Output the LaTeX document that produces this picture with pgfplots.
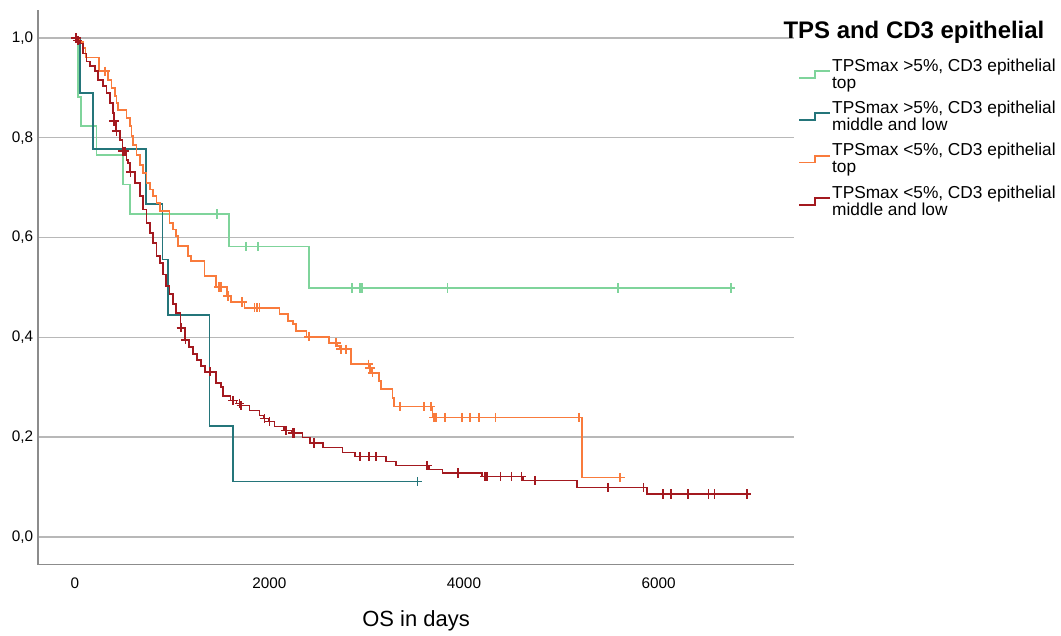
\documentclass[border=0pt]{standalone}
\usepackage{fontspec}
\setmainfont{Liberation Sans}
\usepackage{pgfplots}
\pgfplotsset{compat=1.18}

\definecolor{kmgreen}{HTML}{7FD49B}
\definecolor{kmteal}{HTML}{24757A}
\definecolor{kmorange}{HTML}{F97B3C}
\definecolor{kmred}{HTML}{A3191F}

\begin{document}
\begin{tikzpicture}
\begin{axis}[
  name=km,
  scale only axis, width=568.5pt, height=417pt,
  xmin=-380, xmax=7395, ymin=-0.056, ymax=1.056,
  axis lines=left, axis line style={-, draw=black!45, line width=0.9pt},
  xtick={0,2000,4000,6000}, ytick={0,0.2,0.4,0.6,0.8,1},
  major tick length=0pt,
  scaled x ticks=false,
  ymajorgrids, grid style={black!28, line width=1.1pt},
  tick label style={font=\fontsize{11.5}{13}\selectfont, /pgf/number format/assume math mode=true},
  xticklabel style={/pgf/number format/1000 sep={}, yshift=-6pt},
  yticklabel style={/pgf/number format/.cd, fixed, fixed zerofill, precision=1, use comma},
  xlabel={OS in days},
  xlabel style={font=\fontsize{16.5}{19}\selectfont, at={(axis description cs:0.5,0)}, anchor=center, yshift=-42pt},
  legend style={at={(axis description cs:1,0.92)}, anchor=north west, draw=none, fill=none,
    font=\fontsize{13}{12.9}\selectfont, cells={align=left}, row sep=6pt,
    nodes={inner sep=1pt}},
  legend cell align=left,
  legend image code/.code={\draw[#1] (0pt,-2.6pt) -- (11.5pt,-2.6pt) -- (11.5pt,2.6pt) -- (23pt,2.6pt);},
  every axis plot/.append style={line width=1.3pt},
]

% TPSmax >5%, CD3 epithelial top
\addplot[const plot, kmgreen] coordinates {
  (0,1) (30,0.941) (35,0.882) (60,0.824) (222,0.765) (494,0.706) (564,0.647)
  (1582,0.582) (2410,0.499) (6742,0.499)};
\addlegendentry{TPSmax >5\%, CD3 epithelial\\top}

% TPSmax >5%, CD3 epithelial middle and low
\addplot[const plot, kmteal] coordinates {
  (0,1) (55,0.889) (188,0.778) (730,0.667) (900,0.556) (960,0.444)
  (1385,0.222) (1624,0.111) (3521,0.111)};
\addlegendentry{TPSmax >5\%, CD3 epithelial\\middle and low}

% TPSmax <5%, CD3 epithelial top
\addplot[const plot, kmorange] coordinates {
  (0,1) (40,0.992) (80,0.98) (110,0.961) (249,0.933) (342,0.916) (376,0.899)
  (410,0.883) (428,0.87) (444,0.856) (530,0.839) (564,0.823) (582,0.803)
  (598,0.786) (633,0.766) (667,0.746) (700,0.729) (735,0.709) (769,0.696)
  (803,0.683) (838,0.669) (872,0.653) (974,0.629) (1008,0.616) (1043,0.603)
  (1059,0.583) (1162,0.563) (1197,0.553) (1333,0.523) (1450,0.501) (1560,0.483)
  (1607,0.471) (1744,0.459) (2103,0.446) (2188,0.433) (2239,0.426) (2274,0.413)
  (2380,0.401) (2615,0.389) (2700,0.383) (2725,0.376) (2838,0.346) (3025,0.339)
  (3050,0.329) (3128,0.313) (3146,0.296) (3265,0.279) (3282,0.261) (3675,0.239)
  (5213,0.119) (5607,0.119)};
\addlegendentry{TPSmax <5\%, CD3 epithelial\\top}

% TPSmax <5%, CD3 epithelial middle and low
\addplot[const plot, kmred] coordinates {
  (0,1) (30,0.995) (51,0.989) (85,0.969) (120,0.953) (154,0.943) (205,0.933)
  (239,0.916) (290,0.903) (325,0.889) (359,0.869) (393,0.849) (400,0.833)
  (420,0.813) (462,0.796) (490,0.773) (530,0.756) (547,0.749) (565,0.731)
  (615,0.709) (667,0.683) (700,0.656) (735,0.629) (769,0.609) (803,0.589)
  (838,0.563) (872,0.549) (906,0.526) (940,0.503) (974,0.486) (1008,0.467)
  (1043,0.449) (1085,0.419) (1130,0.395) (1175,0.381) (1213,0.366) (1256,0.355)
  (1299,0.343) (1340,0.331) (1453,0.309) (1505,0.300) (1521,0.283) (1600,0.273)
  (1660,0.267) (1700,0.263) (1795,0.253) (1897,0.243) (1940,0.237) (1990,0.231)
  (2051,0.221) (2150,0.213) (2230,0.208) (2341,0.199) (2420,0.188) (2547,0.179)
  (2752,0.169) (2880,0.161) (3197,0.151) (3299,0.143) (3641,0.135) (3778,0.128)
  (4188,0.121) (4605,0.113) (5162,0.099) (5880,0.086) (6906,0.086)};
\addlegendentry{TPSmax <5\%, CD3 epithelial\\middle and low}

% censored cases
\addplot[forget plot, only marks, mark=+, mark size=3.5pt, kmgreen] coordinates {
  (1460,0.647) (1761,0.582) (1880,0.582) (2848,0.499) (2930,0.499) (2950,0.499)
  (3829,0.499) (5583,0.499) (6742,0.499)};
\addplot[forget plot, only marks, mark=+, mark size=3.5pt, kmteal] coordinates {
  (3521,0.111)};
\addplot[forget plot, only marks, mark=+, mark size=3.5pt, kmorange] coordinates {
  (308,0.933) (1480,0.501) (1505,0.501) (1572,0.483) (1720,0.471) (1846,0.459)
  (1870,0.459) (1897,0.459) (2403,0.401) (2684,0.389) (2735,0.376) (2787,0.376)
  (3018,0.346) (3033,0.339) (3059,0.329) (3340,0.261) (3590,0.261) (3658,0.261)
  (3692,0.239) (3709,0.239) (3805,0.239) (3983,0.239) (4059,0.239) (4154,0.239)
  (4325,0.239) (5179,0.239) (5607,0.119)};
\addplot[forget plot, only marks, mark=+, mark size=3.5pt, kmred] coordinates {
  (10,1) (30,0.995) (403,0.833) (428,0.813) (495,0.773) (513,0.773) (571,0.731)
  (1094,0.419) (1138,0.395) (1390,0.331) (1624,0.273) (1692,0.267) (1710,0.263)
  (1949,0.237) (2000,0.231) (2171,0.213) (2239,0.208) (2256,0.208) (2461,0.188)
  (2933,0.161) (3026,0.161) (3094,0.161) (3620,0.143) (3941,0.128) (4215,0.121)
  (4239,0.121) (4376,0.121) (4489,0.121) (4592,0.121) (4728,0.113) (5480,0.099)
  (5846,0.099) (6044,0.086) (6130,0.086) (6300,0.086) (6512,0.086) (6574,0.086)
  (6906,0.086)};
\end{axis}
\node[anchor=west, inner sep=0pt, font=\bfseries\fontsize{18}{21}\selectfont]
  at ([shift={(-8.25pt,-17pt)}]km.north east) {TPS and CD3 epithelial};
\path ([shift={(-28.5pt,-53.25pt)}]km.south west) rectangle ([shift={(767.25pt,424.5pt)}]km.south west);
\end{tikzpicture}
\end{document}
